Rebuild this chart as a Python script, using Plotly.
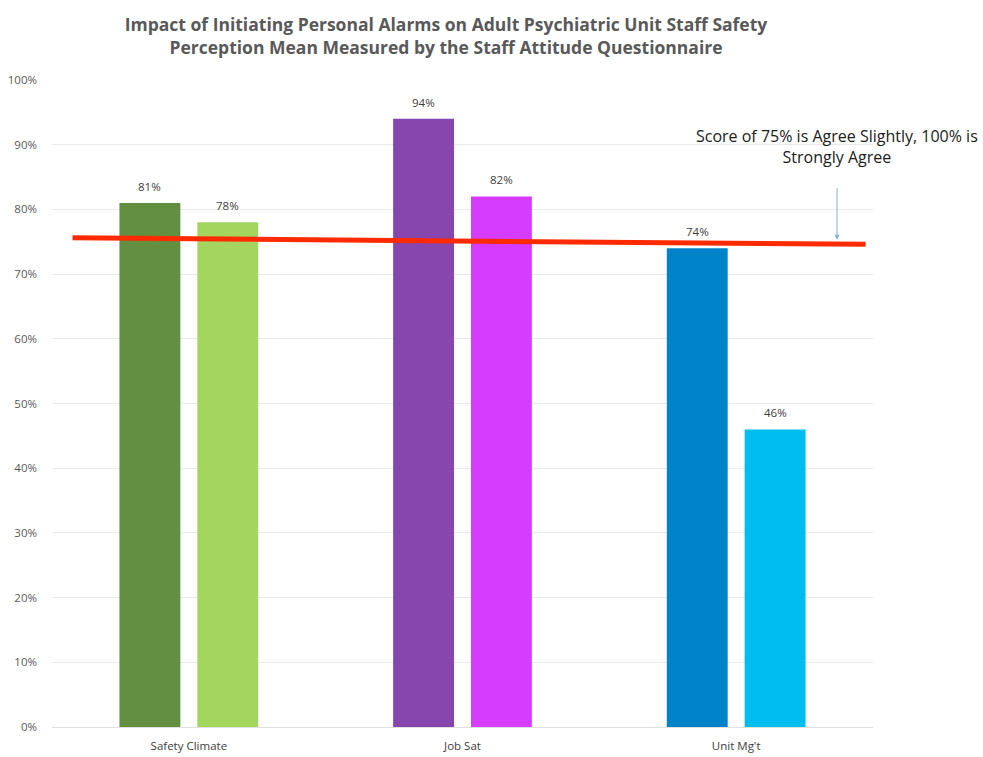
import plotly.graph_objects as go

categories = ["Safety Climate", "Job Sat", "Unit Mg't"]
series_a = [81, 94, 74]
series_b = [78, 82, 46]
colors_a = ["#638f41", "#8646ae", "#0083c9"]
colors_b = ["#a3d55f", "#d63cfd", "#00bdf0"]
ytick_vals = [0, 10, 20, 30, 40, 50, 60, 70, 80, 90, 100]
ytick_text = [f"{v}%" for v in ytick_vals]
ref_line_x = [0.025, 0.991]
ref_line_y = [75.6, 74.6]
note_text = "Score of 75% is Agree Slightly, 100% is<br>Strongly Agree"

FONT = "Open Sans, sans-serif"
PW = 983 - 52 - 110
BARGAP = 0.431
half_slot = (1 - BARGAP) / 4  # offset of each bar centre from category centre

fig = go.Figure()
fig.add_trace(go.Bar(
    x=categories, y=series_a, marker=dict(color=colors_a, line=dict(width=0)),
    showlegend=False))
fig.add_trace(go.Bar(
    x=categories, y=series_b, marker=dict(color=colors_b, line=dict(width=0)),
    showlegend=False))
fig.add_trace(go.Scatter(
    x=ref_line_x, y=ref_line_y, xaxis="x2", yaxis="y", mode="lines",
    line=dict(color="#ff2a00", width=5), showlegend=False, hoverinfo="skip"))

annotations = []
for i, (va, vb) in enumerate(zip(series_a, series_b)):
    for xoff, v in ((-half_slot, va), (half_slot, vb)):
        annotations.append(dict(
            text=f"{v}%", x=i + xoff, y=v, xref="x", yref="y",
            showarrow=False, yanchor="bottom", yshift=7,
            font=dict(size=11.5, color="#404040", family=FONT)))
annotations += [
    dict(text="", x=(837 - 52) / PW, y=75, xref="paper", yref="y",
         showarrow=True, arrowhead=2, arrowsize=1, arrowwidth=1,
         arrowcolor="#7fb2dc", ax=0, ay=-55, standoff=2),
    dict(text=note_text, x=(837 - 52) / PW, y=1 - (146 - 80) / 647,
         xref="paper", yref="paper", showarrow=False,
         xanchor="center", yanchor="middle",
         font=dict(size=16, color="#202020", family=FONT)),
]

fig.update_layout(
    width=983, height=757,
    margin=dict(l=52, r=110, t=80, b=30),
    paper_bgcolor="white", plot_bgcolor="white",
    barmode="group", bargap=BARGAP, bargroupgap=0.218,
    font=dict(family=FONT, color="#595959"),
    title=dict(
        text="<b>Impact of Initiating Personal Alarms on Adult Psychiatric Unit Staff Safety<br>Perception Mean Measured by the Staff Attitude Questionnaire</b>",
        x=446 / 983, xanchor="center", y=1 - 31 / 757, yanchor="middle",
        font=dict(size=17.5, color="#595959", family=FONT)),
    xaxis=dict(range=[-0.5, 2.5], showgrid=False, showline=False, zeroline=False, ticks="",
               ticklabelstandoff=10, automargin=False,
               tickfont=dict(size=11.5, color="#404040", family=FONT)),
    xaxis2=dict(overlaying="x", range=[0, 1], visible=False),
    yaxis=dict(range=[0, 100], tickvals=ytick_vals, ticktext=ytick_text,
               showgrid=True, gridcolor="#e9e9e9", gridwidth=1,
               zeroline=True, zerolinecolor="#e0e0e0", zerolinewidth=1,
               ticks="", ticklabelstandoff=14, automargin=False,
               tickfont=dict(size=11.5, color="#595959", family=FONT)),
    annotations=annotations,
)
fig.write_html("out.html")
